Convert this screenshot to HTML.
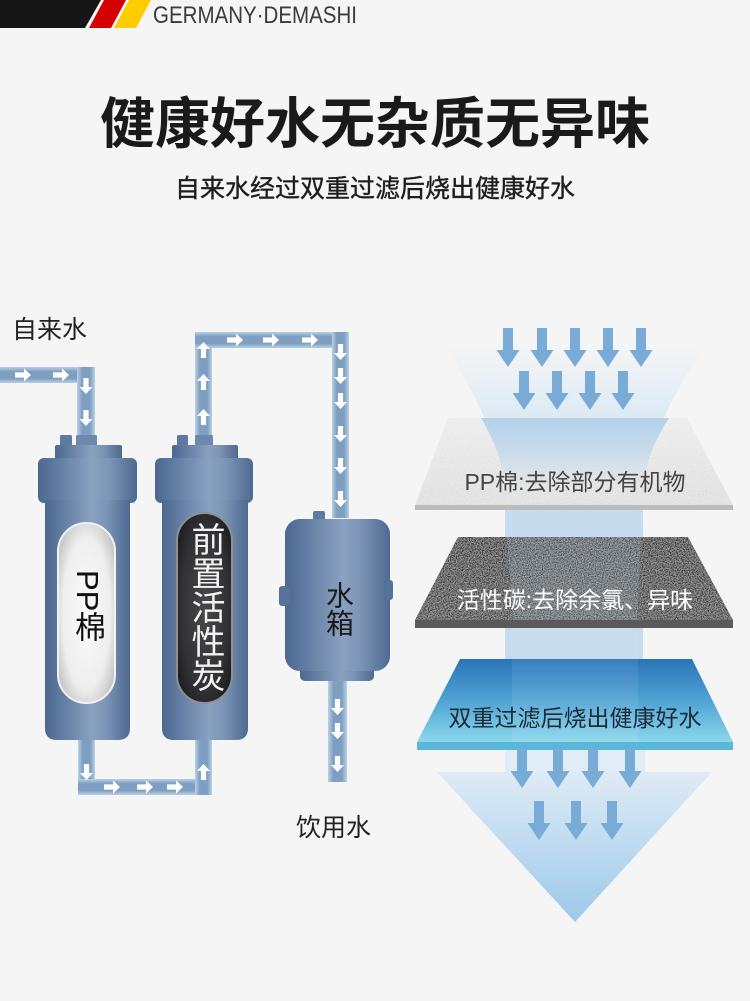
<!DOCTYPE html>
<html><head><meta charset="utf-8">
<style>
html,body{margin:0;padding:0;background:#f5f5f5;}
#wrap{position:relative;width:750px;height:1001px;overflow:hidden;background:#f5f5f5;font-family:"Liberation Sans","Noto Sans CJK SC",sans-serif;}
.t{position:absolute;white-space:nowrap;font-family:"Liberation Sans","Noto Sans CJK SC",sans-serif;}
.v{position:absolute;writing-mode:vertical-rl;text-align:center;font-family:"Liberation Sans","Noto Sans CJK SC",sans-serif;}
</style></head>
<body><div id="wrap">
<svg width="750" height="1001" viewBox="0 0 750 1001" xmlns="http://www.w3.org/2000/svg" style="position:absolute;left:0;top:0">
<defs>
 <linearGradient id="fg" x1="0" y1="0" x2="1" y2="0">
  <stop offset="0" stop-color="#4d688f"/><stop offset="0.15" stop-color="#5c779e"/>
  <stop offset="0.55" stop-color="#8aa1c0"/><stop offset="0.72" stop-color="#7c95b6"/>
  <stop offset="1" stop-color="#4e6990"/>
 </linearGradient>
 <linearGradient id="pv" x1="0" y1="0" x2="1" y2="0">
  <stop offset="0" stop-color="#b9d1e4"/><stop offset="0.28" stop-color="#7f9fc2"/>
  <stop offset="0.72" stop-color="#7f9fc2"/><stop offset="1" stop-color="#b9d1e4"/>
 </linearGradient>
 <linearGradient id="ph" x1="0" y1="0" x2="0" y2="1">
  <stop offset="0" stop-color="#b9d1e4"/><stop offset="0.28" stop-color="#7f9fc2"/>
  <stop offset="0.72" stop-color="#7f9fc2"/><stop offset="1" stop-color="#b9d1e4"/>
 </linearGradient>
 <radialGradient id="ppc" cx="0.5" cy="0.5" r="0.6">
  <stop offset="0" stop-color="#fbfbfb"/><stop offset="0.7" stop-color="#eeeeee"/><stop offset="1" stop-color="#c4c4c4"/>
 </radialGradient>
 <radialGradient id="cc" cx="0.5" cy="0.5" r="0.6">
  <stop offset="0" stop-color="#48484c"/><stop offset="0.7" stop-color="#323236"/><stop offset="1" stop-color="#1f1f22"/>
 </radialGradient>
 <linearGradient id="fun" x1="0" y1="0" x2="0" y2="1">
  <stop offset="0" stop-color="#d8e8f5" stop-opacity="0"/>
  <stop offset="0.2" stop-color="#d2e5f4" stop-opacity="0.85"/>
  <stop offset="0.45" stop-color="#c3dcf0"/>
  <stop offset="1" stop-color="#c8dded"/>
 </linearGradient>
 <linearGradient id="ppg" x1="0" y1="0" x2="0" y2="1">
  <stop offset="0" stop-color="#eaeaea"/><stop offset="1" stop-color="#dddddd"/>
 </linearGradient>
 <linearGradient id="cg" x1="0" y1="0" x2="0" y2="1">
  <stop offset="0" stop-color="#2c2c2e"/><stop offset="1" stop-color="#3a3a3c"/>
 </linearGradient>
 <linearGradient id="bg" x1="0" y1="0" x2="0" y2="1">
  <stop offset="0" stop-color="#2a74b8"/><stop offset="0.5" stop-color="#4fa3d3"/><stop offset="1" stop-color="#8ad8ec"/>
 </linearGradient>
 <linearGradient id="ppov" x1="0" y1="0" x2="0" y2="1">
  <stop offset="0" stop-color="#aacde9" stop-opacity="0.9"/>
  <stop offset="0.55" stop-color="#b5d3ec" stop-opacity="0.55"/>
  <stop offset="1" stop-color="#c0d8ee" stop-opacity="0"/>
 </linearGradient>
 <linearGradient id="tri" x1="0" y1="0" x2="0" y2="1">
  <stop offset="0" stop-color="#dfebf5"/><stop offset="1" stop-color="#9cc9ea"/>
 </linearGradient>
 <filter id="noise" x="0" y="0" width="100%" height="100%">
  <feTurbulence type="fractalNoise" baseFrequency="0.85" numOctaves="2" result="n"/>
  <feColorMatrix in="n" type="matrix" values="0 0 0 0 1  0 0 0 0 1  0 0 0 0 1  0.9 0 0 0 -0.3" result="w"/>
  <feComposite in="w" in2="SourceGraphic" operator="in" result="wn"/>
  <feMerge><feMergeNode in="SourceGraphic"/><feMergeNode in="wn"/></feMerge>
 </filter>
 <g id="ar"><polygon points="-8,-2.6 1,-2.6 1,-6.5 8,0 1,6.5 1,2.6 -8,2.6" fill="#ffffff"/></g>
 <g id="ba"><polygon points="-5,-20 5,-20 5,2 11.5,2 0,19 -11.5,2 -5,2" fill="#78acd7"/></g>
</defs>

<!-- header -->
<polygon points="0,0 101,0 85,28 0,28" fill="#161616"/>
<polygon points="104,0 126,0 111,28 89,28" fill="#d50000"/>
<polygon points="129,0 151,0 136,28 114,28" fill="#ffcc00"/>
<text x="153" y="23" font-family="Liberation Sans, sans-serif" font-size="24" fill="#3a3a3a" textLength="204" lengthAdjust="spacingAndGlyphs">GERMANY·DEMASHI</text>

<!-- pipes -->
<rect x="0" y="367" width="95" height="16" fill="url(#ph)"/>
<rect x="77" y="367" width="18" height="70" fill="url(#pv)"/>
<rect x="195" y="332" width="17" height="105" fill="url(#pv)"/>
<rect x="195" y="332" width="154" height="16" fill="url(#ph)"/>
<rect x="332" y="332" width="17" height="186" fill="url(#pv)"/>
<rect x="78" y="736" width="17" height="59" fill="url(#pv)"/>
<rect x="78" y="779" width="134" height="16" fill="url(#ph)"/>
<rect x="195" y="736" width="17" height="59" fill="url(#pv)"/>
<rect x="328" y="676" width="19" height="106" fill="url(#pv)"/>

<!-- pipe arrows -->
<use href="#ar" transform="translate(23,375)"/>
<use href="#ar" transform="translate(61,375)"/>
<use href="#ar" transform="translate(86,386) rotate(90)"/>
<use href="#ar" transform="translate(86,418) rotate(90)"/>
<use href="#ar" transform="translate(203.5,350) rotate(-90)"/>
<use href="#ar" transform="translate(203.5,382) rotate(-90)"/>
<use href="#ar" transform="translate(203.5,417) rotate(-90)"/>
<use href="#ar" transform="translate(235,340)"/>
<use href="#ar" transform="translate(271,340)"/>
<use href="#ar" transform="translate(310,340)"/>
<use href="#ar" transform="translate(340.5,352) rotate(90)"/>
<use href="#ar" transform="translate(340.5,376) rotate(90)"/>
<use href="#ar" transform="translate(340.5,401) rotate(90)"/>
<use href="#ar" transform="translate(340.5,434) rotate(90)"/>
<use href="#ar" transform="translate(340.5,466) rotate(90)"/>
<use href="#ar" transform="translate(340.5,499) rotate(90)"/>
<use href="#ar" transform="translate(86.5,772) rotate(90)"/>
<use href="#ar" transform="translate(112,787)"/>
<use href="#ar" transform="translate(145,787)"/>
<use href="#ar" transform="translate(175,787)"/>
<use href="#ar" transform="translate(203.5,772) rotate(-90)"/>
<use href="#ar" transform="translate(337.5,707) rotate(90)"/>
<use href="#ar" transform="translate(337.5,731) rotate(90)"/>
<use href="#ar" transform="translate(337.5,764) rotate(90)"/>

<!-- filter 1 -->
<g>
 <rect x="60" y="435" width="12" height="13" rx="1.5" fill="#5f7aa0"/>
 <rect x="76" y="435" width="21" height="13" rx="1.5" fill="#6d88ad"/>
 <rect x="55" y="445" width="67" height="16" rx="2" fill="url(#fg)"/>
 <rect x="38" y="458" width="99" height="45" rx="6" fill="url(#fg)"/>
 <path d="M45,500 H130 V728 Q130,740 118,740 H57 Q45,740 45,728 Z" fill="url(#fg)"/>
 <rect x="58" y="523" width="57" height="180" rx="28.5" fill="url(#ppc)" stroke="#f2f2f2" stroke-width="2"/>
</g>
<!-- filter 2 -->
<g>
 <rect x="177" y="435" width="11" height="13" rx="1.5" fill="#5f7aa0"/>
 <rect x="195" y="435" width="18" height="13" rx="1.5" fill="#6d88ad"/>
 <rect x="172" y="445" width="66" height="16" rx="2" fill="url(#fg)"/>
 <rect x="155" y="458" width="98" height="45" rx="6" fill="url(#fg)"/>
 <path d="M162,500 H248 V728 Q248,740 236,740 H174 Q162,740 162,728 Z" fill="url(#fg)"/>
 <rect x="177" y="513" width="55" height="190" rx="27.5" fill="url(#cc)" stroke="#8f8f94" stroke-width="2"/>
</g>
<!-- tank -->
<g>
 <rect x="313" y="511" width="12" height="12" rx="2" fill="#5f7aa0"/>
 <rect x="300" y="664" width="74" height="17" rx="5" fill="url(#fg)"/>
 <rect x="285" y="519" width="105" height="152" rx="15" fill="url(#fg)"/>
 <rect x="279" y="586" width="11" height="20" rx="3" fill="#58739a"/>
 <rect x="386" y="580" width="7" height="20" rx="3" fill="#58739a"/>
</g>

<!-- right side funnel -->
<path d="M445,345 C478,400 500,440 505,495 L505,760 L643,760 L643,495 C648,440 670,400 705,345 Z" fill="url(#fun)"/>

<!-- layers -->
<polygon points="448,418 687,418 733,505 415,505" fill="url(#ppg)" filter="url(#noise)"/>
<rect x="415" y="505" width="318" height="5" fill="#bcbcbc"/>
<path d="M481,418 C494,440 502,460 505,488 L643,488 C646,460 655,440 669,418 Z" fill="url(#ppov)"/>

<rect x="507" y="510" width="134" height="27" fill="#c6dcee"/>
<polygon points="458,537 688,537 733,620 415,620" fill="url(#cg)" filter="url(#noise)"/>
<rect x="415" y="620" width="318" height="8" fill="#5a5a5c"/>
<polygon points="507,537 641,537 637,620 513,620" fill="#b8d3ea" opacity="0.18"/>

<rect x="512" y="628" width="126" height="31" fill="#c8ddee"/>
<polygon points="460,659 692,659 733,742 417,742" fill="url(#bg)"/>
<rect x="417" y="742" width="316" height="8" fill="#5cb6d9"/>
<polygon points="512,659 638,659 638,742 512,742" fill="#ffffff" opacity="0.08"/>

<!-- bottom triangle -->
<rect x="505" y="750" width="140" height="22" fill="#e0ecf6"/>
<polygon points="437,772 712,772 575,922" fill="url(#tri)"/>

<!-- big arrows -->
<use href="#ba" transform="translate(508,348)"/>
<use href="#ba" transform="translate(542,348)"/>
<use href="#ba" transform="translate(575,348)"/>
<use href="#ba" transform="translate(608,348)"/>
<use href="#ba" transform="translate(641,348)"/>
<use href="#ba" transform="translate(524,391)"/>
<use href="#ba" transform="translate(557,391)"/>
<use href="#ba" transform="translate(590,391)"/>
<use href="#ba" transform="translate(623,391)"/>
<use href="#ba" transform="translate(522,769)"/>
<use href="#ba" transform="translate(558,769)"/>
<use href="#ba" transform="translate(593,769)"/>
<use href="#ba" transform="translate(630,769)"/>
<use href="#ba" transform="translate(539,821)"/>
<use href="#ba" transform="translate(576,821)"/>
<use href="#ba" transform="translate(612,821)"/>
</svg>

<!-- text -->
<div class="t" style="left:0;width:750px;top:97px;text-align:center;font-size:55px;line-height:55px;font-weight:700;color:#1a1a1a;">健康好水无杂质无异味</div>
<div class="t" style="left:0;width:750px;top:176px;text-align:center;font-size:25px;line-height:26px;color:#1e1e1e;-webkit-text-stroke:0.4px #1e1e1e;">自来水经过双重过滤后烧出健康好水</div>

<div class="t" style="left:12px;top:317px;font-size:25px;line-height:26px;color:#222;">自来水</div>
<div class="t" style="left:296px;top:815px;font-size:25px;line-height:26px;color:#222;">饮用水</div>

<div class="v" style="left:67px;width:41px;line-height:41px;top:570px;font-size:31px;color:#111;">PP棉</div>
<div class="v" style="left:184px;width:41px;line-height:41px;top:522px;font-size:34px;color:#f2f2f2;">前置活性炭</div>
<div class="v" style="left:320px;width:36px;line-height:36px;top:581px;font-size:28px;color:#1a1a1a;">水箱</div>

<div class="t" style="left:415px;width:320px;top:470px;text-align:center;font-size:23px;line-height:24px;color:#444;">PP棉:去除部分有机物</div>
<div class="t" style="left:415px;width:320px;top:588px;text-align:center;font-size:23px;line-height:24px;color:#ffffff;">活性碳:去除余氯、异味</div>
<div class="t" style="left:415px;width:320px;top:706px;text-align:center;font-size:23px;line-height:24px;color:#1e2a35;">双重过滤后烧出健康好水</div>
</div></body></html>
